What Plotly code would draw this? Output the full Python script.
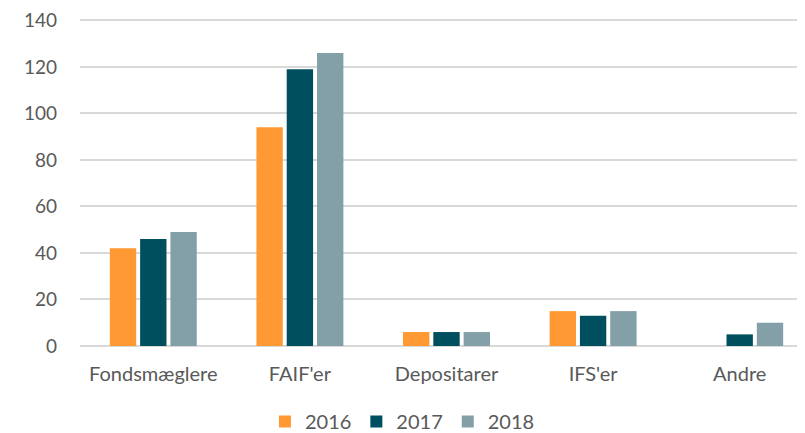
import plotly.graph_objects as go

categories = ["Fondsmæglere", "FAIF'er", "Depositarer", "IFS'er", "Andre"]
years = ["2016", "2017", "2018"]
v2016 = [42, 94, 6, 15, 0]
v2017 = [46, 119, 6, 13, 5]
v2018 = [49, 126, 6, 15, 10]
colors = ["#FF9933", "#004F5E", "#83A0A8"]

fig = go.Figure()
for name, vals, c in zip(years, [v2016, v2017, v2018], colors):
    fig.add_trace(go.Bar(name=name, x=categories, y=vals, marker_color=c,
                         marker_line_width=0))

font_color = "#595959"
fig.update_layout(
    width=805, height=433,
    margin=dict(l=72, r=0, t=10, b=95, autoexpand=False),
    paper_bgcolor="white", plot_bgcolor="white",
    barmode="group", bargap=0.38, bargroupgap=0.13,
    font=dict(family="Lato, Liberation Sans, sans-serif", size=20, color=font_color),
    legend=dict(orientation="h", xref="container", yref="container",
                x=0.49, xanchor="center", y=0.0, yanchor="bottom",
                font=dict(size=20, color=font_color), itemwidth=30, tracegroupgap=0),
    xaxis=dict(showgrid=False, showline=False, ticks="", automargin=False,
               ticklabelstandoff=14, tickfont=dict(size=20, color=font_color)),
    yaxis=dict(range=[0, 141], tickmode="array", tickvals=[0, 20, 40, 60, 80, 100, 120, 140],
               showgrid=True, gridcolor="#D9D9D9", gridwidth=2, ticklabeloverflow="allow",
               zeroline=True, zerolinecolor="#D9D9D9", zerolinewidth=2, automargin=False,
               ticks="", ticklabelstandoff=22, tickfont=dict(size=19, color=font_color)),
)
fig.write_html("out.html")
